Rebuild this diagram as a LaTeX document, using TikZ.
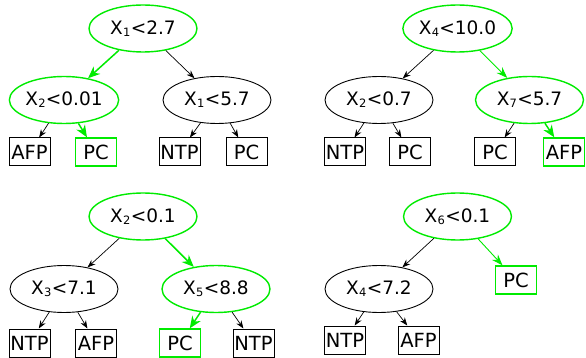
\documentclass[tikz,border=0pt]{standalone}
\usepackage{fontspec}
\setmainfont{DejaVu Sans}
\usetikzlibrary{arrows.meta,shapes.geometric}
\definecolor{gr}{RGB}{0,235,0}
\newcommand{\lab}[2]{X\kern0.3pt\raisebox{-2pt}{\fontsize{11.5}{11.5}\selectfont #1}\kern0.3pt<#2}
\begin{document}
\begin{tikzpicture}[x=1pt,y=-1pt,
 inode/.style={ellipse,draw,line width=0.9pt,minimum width=108pt,minimum height=47pt,inner sep=0pt,font=\fontsize{18.5}{20}\selectfont},
 ginode/.style={inode,draw=gr,line width=1.4pt},
 leaf/.style={rectangle,draw,line width=1pt,minimum width=41pt,minimum height=28pt,inner sep=0pt,font=\fontsize{19.5}{21}\selectfont},
 gleaf/.style={leaf,draw=gr,line width=1.4pt},
 bedge/.style={-{Stealth[length=8pt,width=6pt]},line width=0.7pt},
 gedge/.style={-{Stealth[length=12pt,width=10pt]},draw=gr,line width=1.5pt},
 gedgethin/.style={-{Stealth[length=11pt,width=8pt]},draw=gr,line width=0.9pt},
]
\useasboundingbox (0,0) rectangle (586,358);
% tree 1
\node[ginode] (a0) at (143,28.5) {\lab{1}{2.7}};
\node[ginode] (a1) at (64,100) {\lab{2}{0.01}};
\node[inode] (a2) at (217,100) {\lab{1}{5.7}};
\node[leaf] (a3) at (29.5,152) {AFP};
\node[gleaf] (a4) at (96,152) {PC};
\node[leaf] (a5) at (179.5,152) {NTP};
\node[leaf] (a6) at (246.5,152) {PC};
\draw[gedge] (a0) -- (a1);
\draw[bedge] (a0) -- (a2);
\draw[bedge] (a1) -- (a3);
\draw[gedge] (a1) -- (a4);
\draw[bedge] (a2) -- (a5);
\draw[bedge] (a2) -- (a6);
% tree 2
\node[ginode] (b0) at (457.5,28.5) {\lab{4}{10.0}};
\node[inode] (b1) at (379,100) {\lab{2}{0.7}};
\node[ginode] (b2) at (529.5,100) {\lab{7}{5.7}};
\node[leaf] (b3) at (345,152) {NTP};
\node[leaf] (b4) at (410,152) {PC};
\node[leaf] (b5) at (495,152) {PC};
\node[gleaf] (b6) at (564,152) {AFP};
\draw[bedge] (b0) -- (b1);
\draw[gedgethin] (b0) -- (b2);
\draw[bedge] (b1) -- (b3);
\draw[bedge] (b1) -- (b4);
\draw[bedge] (b2) -- (b5);
\draw[gedge] (b2) -- (b6);
% tree 3
\node[ginode] (c0) at (143,216.5) {\lab{2}{0.1}};
\node[inode] (c1) at (64,289) {\lab{3}{7.1}};
\node[ginode] (c2) at (216,289) {\lab{5}{8.8}};
\node[leaf] (c3) at (29.5,343) {NTP};
\node[leaf] (c4) at (96,343) {AFP};
\node[gleaf] (c5) at (180,343) {PC};
\node[leaf] (c6) at (253.5,343) {NTP};
\draw[bedge] (c0) -- (c1);
\draw[gedge] (c0) -- (c2);
\draw[bedge] (c1) -- (c3);
\draw[bedge] (c1) -- (c4);
\draw[gedge] (c2) -- (c5);
\draw[bedge] (c2) -- (c6);
% tree 4
\node[ginode] (d0) at (457.5,216.5) {\lab{6}{0.1}};
\node[inode] (d1) at (379,289) {\lab{4}{7.2}};
\node[gleaf] (d2) at (516,280) {PC};
\node[leaf] (d3) at (345,340) {NTP};
\node[leaf] (d4) at (418.5,340) {AFP};
\draw[bedge] (d0) -- (d1);
\draw[gedgethin] (d0) -- (d2);
\draw[bedge] (d1) -- (d3);
\draw[bedge] (d1) -- (d4);
\end{tikzpicture}
\end{document}
